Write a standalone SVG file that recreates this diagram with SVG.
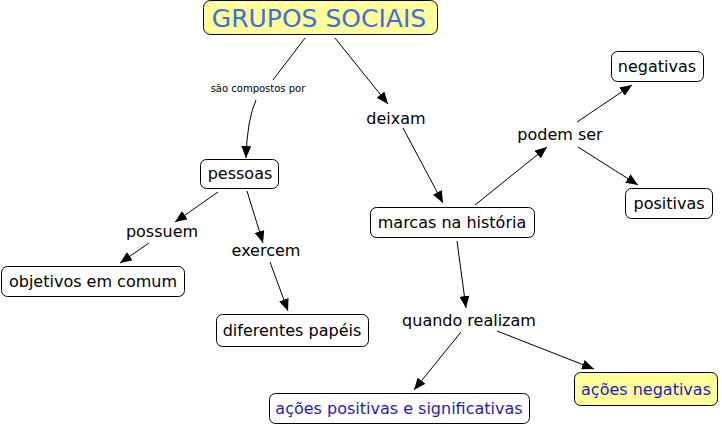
<svg xmlns="http://www.w3.org/2000/svg" width="722" height="427" viewBox="0 0 722 427">
<style>
  .box { fill: #ffffff; stroke: #000000; stroke-width: 1; }
  .hl { fill: #ffff99; }
  text { font-family: "DejaVu Sans", Verdana, sans-serif; font-size: 16px; fill: #000000; text-anchor: middle; dominant-baseline: central; }
  .title { font-size: 25px; fill: #3d6ede; }
  .blue { fill: #1c1cc0; }
  .small { font-size: 10px; }
  .conn path, .conn line { stroke: #000000; stroke-width: 1; fill: none; }
</style>
<defs>
  <marker id="arr" viewBox="0 0 12 10" refX="12" refY="5" markerWidth="12" markerHeight="10" markerUnits="userSpaceOnUse" orient="auto">
    <path d="M0,0 L12,5 L0,10 Z" fill="#000000"/>
  </marker>
</defs>
<rect width="722" height="427" fill="#ffffff"/>
<g class="conn">
  <line x1="305" y1="38" x2="273" y2="80"/>
  <path d="M256,100 Q247,120 246,158" marker-end="url(#arr)"/>
  <line x1="335" y1="38" x2="388" y2="104" marker-end="url(#arr)"/>
  <line x1="218" y1="192" x2="175" y2="222" marker-end="url(#arr)"/>
  <line x1="149" y1="243" x2="120" y2="263" marker-end="url(#arr)"/>
  <line x1="247" y1="191" x2="263" y2="243" marker-end="url(#arr)"/>
  <line x1="270" y1="262" x2="288" y2="311" marker-end="url(#arr)"/>
  <line x1="403" y1="128" x2="443" y2="203" marker-end="url(#arr)"/>
  <line x1="475" y1="205" x2="547" y2="147" marker-end="url(#arr)"/>
  <line x1="577" y1="122" x2="632" y2="85" marker-end="url(#arr)"/>
  <line x1="578" y1="147" x2="638" y2="185" marker-end="url(#arr)"/>
  <line x1="457" y1="241" x2="466" y2="308" marker-end="url(#arr)"/>
  <line x1="461" y1="332" x2="414" y2="390" marker-end="url(#arr)"/>
  <line x1="497" y1="331" x2="594" y2="369" marker-end="url(#arr)"/>
</g>
<g id="grupos-sociais">
  <rect class="box hl" x="203.5" y="0.5" width="234" height="34" rx="7"/>
  <text class="title" x="319" y="18">GRUPOS SOCIAIS</text>
</g>
<g id="lbl-sao-compostos-por"><text class="small" x="258" y="88">são compostos por</text></g>
<g id="lbl-deixam"><text x="396" y="118">deixam</text></g>
<g id="pessoas">
  <rect class="box" x="200.5" y="159.5" width="78" height="29" rx="6"/>
  <text x="240" y="173">pessoas</text>
</g>
<g id="lbl-possuem"><text x="162" y="231">possuem</text></g>
<g id="lbl-exercem"><text x="266" y="250">exercem</text></g>
<g id="objetivos-em-comum">
  <rect class="box" x="1.5" y="266.5" width="183" height="30" rx="6"/>
  <text x="93" y="281">objetivos em comum</text>
</g>
<g id="diferentes-papeis">
  <rect class="box" x="216.5" y="314.5" width="152" height="32" rx="6"/>
  <text x="292" y="330">diferentes papéis</text>
</g>
<g id="marcas-na-historia">
  <rect class="box" x="370.5" y="207.5" width="164" height="30" rx="6"/>
  <text x="452" y="222">marcas na história</text>
</g>
<g id="lbl-podem-ser"><text x="560" y="134">podem ser</text></g>
<g id="negativas">
  <rect class="box" x="611.5" y="51.5" width="92" height="30" rx="6"/>
  <text x="657" y="66">negativas</text>
</g>
<g id="positivas">
  <rect class="box" x="625.5" y="188.5" width="87" height="30" rx="6"/>
  <text x="669" y="203">positivas</text>
</g>
<g id="lbl-quando-realizam"><text x="469" y="320">quando realizam</text></g>
<g id="acoes-positivas">
  <rect class="box" x="269.5" y="393.5" width="260" height="30" rx="6"/>
  <text class="blue" x="399" y="408">ações positivas e significativas</text>
</g>
<g id="acoes-negativas">
  <rect class="box hl" x="574.5" y="372.5" width="143" height="33" rx="6"/>
  <text class="blue" x="646" y="389">ações negativas</text>
</g>
</svg>
